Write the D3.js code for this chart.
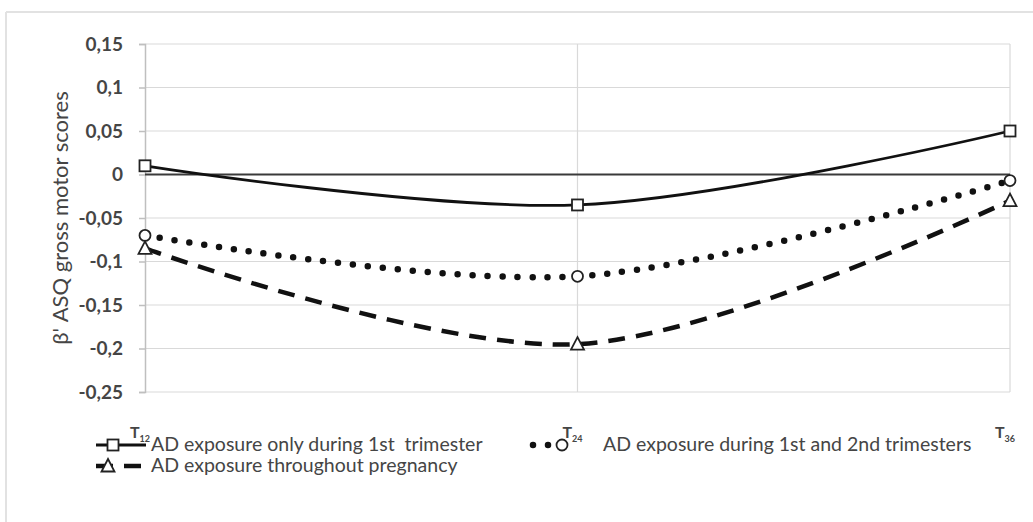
<!DOCTYPE html>
<html>
<head>
<meta charset="utf-8">
<script src="https://cdn.jsdelivr.net/npm/d3@7"></script>
<style>
  body { margin: 0; background: #fff; }
  svg text { font-family: Lato, "Open Sans", sans-serif; fill: #454545; white-space: pre; }
</style>
</head>
<body>
<div id="chart"></div>
<script>
// time points (subscript months)
const timePoints = ["12", "24", "36"];
const yTicks = [0.15, 0.1, 0.05, 0, -0.05, -0.1, -0.15, -0.2, -0.25];

const firstTrimester = [0.01, -0.035, 0.05];
const firstSecondTrimester = [-0.07, -0.117, -0.007];
const wholePregnancy = [-0.085, -0.195, -0.03];

const seriesNames = [
  "AD exposure only during 1st  trimester",
  "AD exposure during 1st and 2nd trimesters",
  "AD exposure throughout pregnancy"
];

const width = 1033, height = 522;

const svg = d3.select("#chart").append("svg")
  .attr("width", width)
  .attr("height", height);

// faint outer frame (top + left visible)
svg.append("line").attr("x1", 6).attr("x2", width).attr("y1", 12).attr("y2", 12)
  .attr("stroke", "#e2e2e2").attr("stroke-width", 2);
svg.append("line").attr("x1", 6).attr("x2", 6).attr("y1", 12).attr("y2", height)
  .attr("stroke", "#e2e2e2").attr("stroke-width", 2);

const x = d3.scalePoint().domain(timePoints).range([145, 1010]);
const y = d3.scaleLinear().domain([-0.25, 0.15]).range([392, 44]);

const fmt = d => String(d).replace(".", ",");

// horizontal gridlines
svg.append("g").selectAll("line").data(yTicks.filter(d => d !== 0)).join("line")
  .attr("x1", x.range()[0]).attr("x2", x.range()[1])
  .attr("y1", d => y(d)).attr("y2", d => y(d))
  .attr("stroke", "#d9d9d9").attr("stroke-width", 1.2);

// vertical gridlines at middle & right categories
svg.append("g").selectAll("line").data(timePoints.slice(1)).join("line")
  .attr("x1", d => x(d)).attr("x2", d => x(d))
  .attr("y1", y(0.15)).attr("y2", y(-0.25))
  .attr("stroke", "#d9d9d9").attr("stroke-width", 1.2);

// y axis
const yAxis = d3.axisLeft(y).tickValues(yTicks).tickFormat(fmt).tickSize(6).tickPadding(16);
const yAxisG = svg.append("g").attr("transform", `translate(${x.range()[0]},0)`).call(yAxis);
yAxisG.select(".domain").attr("stroke", "#bfbfbf").attr("stroke-width", 1.5);
yAxisG.selectAll(".tick line").attr("stroke", "#bfbfbf").attr("stroke-width", 1.5);
yAxisG.selectAll(".tick text")
  .style("font-family", "Lato, sans-serif").style("font-size", "19px")
  .attr("fill", "#555").style("font-weight", "bold");

// zero line (category axis)
svg.append("line")
  .attr("x1", x.range()[0]).attr("x2", x.range()[1])
  .attr("y1", y(0)).attr("y2", y(0))
  .attr("stroke", "#3a3a3a").attr("stroke-width", 2);

// y axis title
svg.append("text")
  .attr("transform", `translate(68,${(y(0.15) + y(-0.25)) / 2}) rotate(-90)`)
  .attr("text-anchor", "middle")
  .style("font-size", "22px")
  .text("β' ASQ gross motor scores");

// x tick labels with subscripts
const xl = svg.append("g").selectAll("text").data(timePoints).join("text")
  .attr("x", d => x(d) - 15).attr("y", 438)
  .style("font-size", "16px").style("font-weight", "bold").attr("fill", "#333");
xl.append("tspan").text("T");
xl.append("tspan").attr("dy", 4).style("font-size", "9px").text(d => d);

// series definitions
const series = [
  { name: seriesNames[0], values: firstTrimester, dash: null, width: 2.8, cap: "butt", marker: "square" },
  { name: seriesNames[1], values: firstSecondTrimester, dash: "0,15", width: 6.5, cap: "round", marker: "circle" },
  { name: seriesNames[2], values: wholePregnancy, dash: "17,11", width: 4.5, cap: "butt", marker: "triangle" }
];

const line = d3.line()
  .x((d, i) => x(timePoints[i]))
  .y(d => y(d))
  .curve(d3.curveCatmullRom.alpha(0.5));

svg.append("g").selectAll("path").data(series).join("path")
  .attr("d", d => line(d.values))
  .attr("fill", "none")
  .attr("stroke", "#111")
  .attr("stroke-width", d => d.width)
  .attr("stroke-linecap", d => d.cap)
  .attr("stroke-dasharray", d => d.dash);

function drawMarker(g, type, cx, cy) {
  if (type === "square") {
    g.append("rect").attr("x", cx - 5.5).attr("y", cy - 5.5).attr("width", 11).attr("height", 11)
      .attr("fill", "#fff").attr("stroke", "#222").attr("stroke-width", 1.8);
  } else if (type === "circle") {
    g.append("circle").attr("cx", cx).attr("cy", cy).attr("r", 5.5)
      .attr("fill", "#fff").attr("stroke", "#222").attr("stroke-width", 1.8);
  } else {
    g.append("path").attr("d", `M${cx},${cy - 7}L${cx + 6.5},${cy + 5.5}L${cx - 6.5},${cy + 5.5}Z`)
      .attr("fill", "#fff").attr("stroke", "#222").attr("stroke-width", 1.8);
  }
}

const markersG = svg.append("g");
series.forEach(s => {
  s.values.forEach((v, i) => drawMarker(markersG, s.marker, x(timePoints[i]), y(v)));
});

// legend
const legendPos = [
  { x1: 96, x2: 146, mx: 113, tx: 151, y: 445 },
  { x1: 533, x2: 575, mx: 562, tx: 603, y: 445 },
  { x1: 96, x2: 146, mx: 108, tx: 151, y: 466 }
];
const legendG = svg.append("g");
series.forEach((s, i) => {
  const p = legendPos[i];
  legendG.append("line")
    .attr("x1", p.x1).attr("x2", p.x2).attr("y1", p.y).attr("y2", p.y)
    .attr("stroke", "#111").attr("stroke-width", s.width)
    .attr("stroke-linecap", s.cap)
    .attr("stroke-dasharray", s.dash);
  drawMarker(legendG, s.marker, p.mx, p.y);
  legendG.append("text")
    .attr("x", p.tx).attr("y", p.y + 6)
    .style("font-size", "19.5px")
    .text(s.name);
});
</script>
</body>
</html>
